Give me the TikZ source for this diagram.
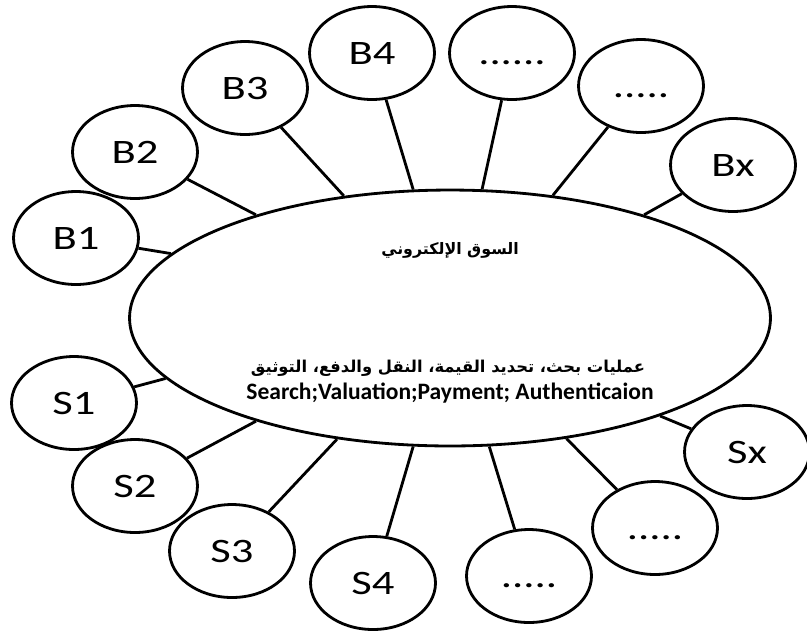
\documentclass[tikz,border=0pt]{standalone}
\usepackage{fontspec}
\setmainfont{Carlito}
\newfontfamily\labelfont[FakeStretch=1.3]{Carlito}
\newfontfamily\arabicfont[Script=Arabic]{DejaVu Sans}
\TeXXeTstate=1
\usetikzlibrary{shapes.geometric}

\begin{document}
\begin{tikzpicture}[
    x=0.02cm, y=-0.02cm,
    party/.style={ellipse, draw=black, line width=1.6pt, fill=white,
        minimum width=2.5cm, minimum height=1.86cm, inner sep=0pt,
        text height=13pt, text depth=0pt,
        font=\labelfont\fontsize{19.5}{22}\selectfont},
    market/.style={ellipse, draw=black, line width=1.6pt,
        minimum width=12.82cm, minimum height=5.12cm},
    link/.style={line width=1.6pt}
]
    \useasboundingbox (0,0) rectangle (807,630);

    % Market
    \node[market] (m) at (450,318) {};
    \node[font=\arabicfont\bfseries\fontsize{9}{11}\selectfont] (title) at (450,250) {\beginR السوق الإلكتروني\endR};
    \node[font=\arabicfont\bfseries\fontsize{9.3}{11}\selectfont] (ops) at (448,368) {\beginR عمليات بحث، تحديد القيمة، النقل والدفع، التوثيق\endR};
    \node[font=\bfseries\fontsize{13.4}{16}\selectfont] (opsen) at (450,393) {Search;Valuation;Payment; Authenticaion};

    % Buyers
    \node[party] (b1) at (76,238) {B1};
    \node[party] (b2) at (135,152) {B2};
    \node[party] (b3) at (245,88) {B3};
    \node[party] (b4) at (372,53) {B4};
    \node[party] (b5) at (512,53) {......};
    \node[party] (b6) at (641,86) {.....};
    \node[party] (bx) at (733,165) {Bx};

    % Sellers
    \node[party] (s1) at (74,403) {S1};
    \node[party] (s2) at (135,486) {S2};
    \node[party] (s3) at (232,551) {S3};
    \node[party] (s4) at (373,583) {S4};
    \node[party] (s5) at (529,576) {.....};
    \node[party] (s6) at (655,528) {.....};
    \node[party] (sx) at (747,452) {Sx};

    % Connections
    \foreach \n/\a in {b1/167.8, b2/152.1, b3/131.5, b4/106.2, b5/76.8, b6/50.3, bx/28.7,
                       s1/192.9, s2/208.4, s3/227.4, s4/254.6, s5/287.1, s6/314.5, sx/335.7}
        \draw[link] (\n) -- (m.\a);
\end{tikzpicture}
\end{document}
